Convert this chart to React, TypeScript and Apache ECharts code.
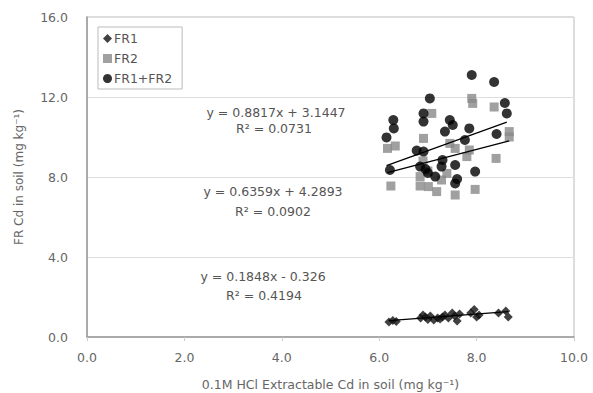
import React, { useEffect, useRef } from "react";
import * as echarts from "echarts";

const fr1: [number, number][] = [
  [6.2, 0.75], [6.28, 0.82], [6.35, 0.78], [6.85, 0.95], [6.9, 1.1], [6.95, 1.0],
  [7.0, 0.88], [7.05, 1.05], [7.12, 0.85], [7.2, 0.95], [7.25, 0.9], [7.3, 1.0],
  [7.35, 1.1], [7.42, 0.95], [7.5, 1.2], [7.55, 1.05], [7.6, 0.8], [7.65, 1.15],
  [7.88, 1.2], [7.95, 1.38], [8.0, 1.0], [8.05, 1.1], [8.45, 1.2], [8.6, 1.3], [8.65, 1.0],
];

const fr2: [number, number][] = [
  [6.17, 9.43], [6.33, 9.55], [6.24, 7.55], [6.84, 8.02], [6.84, 7.55], [6.91, 9.93],
  [7.01, 7.52], [7.08, 11.18], [7.18, 7.27], [7.28, 7.85], [7.39, 8.18], [7.45, 9.68],
  [7.56, 9.43], [7.56, 7.1], [7.8, 9.02], [7.85, 9.35], [7.9, 11.93], [7.92, 11.68],
  [7.97, 7.38], [8.36, 11.5], [8.4, 8.93], [8.67, 10.27], [8.67, 10.0], [7.0, 8.3], [6.9, 8.8],
];

const fr12: [number, number][] = [
  [6.15, 9.98], [6.22, 8.35], [6.29, 10.85], [6.3, 10.43], [6.77, 9.32], [6.84, 8.52],
  [6.91, 9.27], [6.91, 11.18], [6.91, 10.77], [7.04, 11.93], [7.0, 8.2], [7.15, 8.02],
  [7.28, 8.52], [7.3, 8.85], [7.35, 10.27], [7.45, 10.85], [7.51, 10.6], [7.56, 8.6],
  [7.56, 7.68], [7.76, 9.85], [7.85, 10.43], [7.9, 13.1], [7.97, 8.27], [8.36, 12.75],
  [8.41, 10.15], [8.58, 11.7], [8.62, 11.18], [6.95, 8.4], [7.6, 7.9],
];

const fits = {
  fr1: { slope: 0.1848, intercept: -0.326 },
  fr2: { slope: 0.6359, intercept: 4.2893 },
  fr12: { slope: 0.8817, intercept: 3.1447 },
};

const eqLabels = [
  "y = 0.8817x + 3.1447", "R² = 0.0731",
  "y = 0.6359x + 4.2893", "R² = 0.0902",
  "y = 0.1848x - 0.326", "R² = 0.4194",
];

const yTicks = ["0.0", "4.0", "8.0", "12.0", "16.0"];

function trend(data: [number, number][], f: { slope: number; intercept: number }) {
  const xs = data.map((d) => d[0]);
  const a = Math.min(...xs);
  const b = Math.max(...xs);
  return [
    [a, f.slope * a + f.intercept],
    [b, f.slope * b + f.intercept],
  ];
}

export default function App() {
  const ref = useRef<HTMLDivElement>(null);
  useEffect(() => {
    const chart = echarts.init(ref.current!, null, { renderer: "svg" });
    const font = "DejaVu Sans, Verdana, sans-serif";
    const textColor = "#666";
    const lineSeries = (data: number[][]) => ({
      type: "line",
      data,
      symbol: "none",
      lineStyle: { color: "#000", width: 1.3 },
      z: 5,
      silent: true,
    });
    chart.setOption({
      animation: false,
      backgroundColor: "#fff",
      textStyle: { fontFamily: font },
      grid: { left: 87, right: 19, top: 17, bottom: 56, outerBoundsMode: "none", containLabel: false },
      legend: {
        orient: "vertical",
        left: 98,
        top: 27,
        data: [
          { name: "FR1", icon: "diamond" },
          { name: "FR2", icon: "rect" },
          { name: "FR1+FR2", icon: "circle" },
        ],
        itemWidth: 9,
        itemHeight: 9,
        itemGap: 7,
        borderColor: "#bbb",
        borderWidth: 1,
        borderRadius: 0,
        padding: [5, 10, 4, 5],
        itemStyle: { borderWidth: 0 },
        textStyle: { fontSize: 12.5, color: "#555", fontFamily: font, padding: [0, 0, 0, -3] },
      },
      xAxis: {
        type: "value",
        min: 0,
        max: 10,
        interval: 2,
        name: "0.1M HCl Extractable Cd in soil (mg kg⁻¹)",
        nameLocation: "middle",
        nameGap: 40,
        nameTextStyle: { fontSize: 12.5, color: textColor, lineHeight: 14 },
        axisLine: { show: true, lineStyle: { color: "#999", width: 1.5 } },
        axisTick: { show: true, inside: false, length: 4, lineStyle: { color: "#ccc" } },
        axisLabel: { fontSize: 12.5, color: textColor, formatter: (v: number) => v.toFixed(1), margin: 14 },
        splitLine: { show: false },
      },
      yAxis: {
        type: "value",
        min: 0,
        max: 16,
        interval: 4,
        name: "FR Cd in soil (mg kg⁻¹)",
        nameLocation: "middle",
        nameGap: 62,
        nameTextStyle: { fontSize: 12, color: textColor },
        axisLine: { show: true, lineStyle: { color: "#999", width: 1.5 } },
        axisTick: { show: false },
        axisLabel: {
          fontSize: 12.5,
          color: textColor,
          margin: 19,
          formatter: (v: number) => yTicks[Math.round(v / 4)] ?? v.toFixed(1),
        },
        splitLine: { show: true, lineStyle: { color: "#ddd", width: 1 } },
      },
      graphic: [
        {
          type: "rect",
          shape: { x: 87, y: 17, width: 487, height: 320 },
          style: { fill: "none", stroke: "#bbb", lineWidth: 1 },
          silent: true,
          z: -1,
        },
        ...[
          [276, 112], [274, 128],
          [273, 191], [273, 211],
          [263, 276], [264, 295],
        ].map(([x, y], i) => ({
          type: "text",
          x,
          y,
          style: {
            text: eqLabels[i],
            fill: "#555",
            font: `12.5px ${font}`,
            textAlign: "center",
            textVerticalAlign: "middle",
          },
          z: 10,
        })),
      ],
      series: [
        {
          name: "FR1",
          type: "scatter",
          data: fr1,
          symbol: "diamond",
          symbolSize: 9,
          itemStyle: { color: "#111" },
          z: 3,
        },
        {
          name: "FR2",
          type: "scatter",
          data: fr2,
          symbol: "rect",
          symbolSize: 9,
          itemStyle: { color: "#888" },
          z: 2,
        },
        {
          name: "FR1+FR2",
          type: "scatter",
          data: fr12,
          symbol: "circle",
          symbolSize: 10,
          itemStyle: { color: "#000" },
          z: 3,
        },
        lineSeries(trend(fr1, fits.fr1)),
        lineSeries(trend(fr2, fits.fr2)),
        lineSeries(trend(fr12, fits.fr12)),
      ],
    });
    return () => chart.dispose();
  }, []);
  return (
    <div
      ref={ref}
      style={{ position: "absolute", left: 0, top: 0, width: 593, height: 393 }}
    />
  );
}
